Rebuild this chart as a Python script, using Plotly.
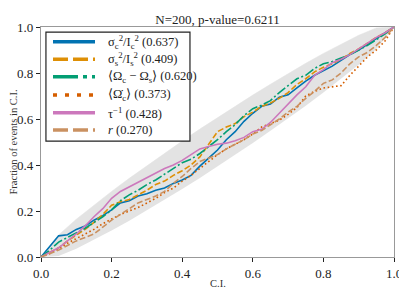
import plotly.graph_objects as go

# ---- data ----
ci_grid = [i * 0.025 for i in range(41)]

blue_sc = [0.000, 0.045, 0.092, 0.097, 0.120, 0.135, 0.160, 0.180, 0.205, 0.235,
           0.245, 0.265, 0.275, 0.290, 0.300, 0.320, 0.335, 0.355, 0.395, 0.430,
           0.465, 0.510, 0.545, 0.590, 0.625, 0.655, 0.665, 0.695, 0.705, 0.735,
           0.765, 0.790, 0.810, 0.830, 0.855, 0.880, 0.900, 0.925, 0.950, 0.975, 1.000]
orange_ss = [0.000, 0.020, 0.040, 0.070, 0.095, 0.120, 0.150, 0.185, 0.225, 0.240,
             0.250, 0.270, 0.290, 0.315, 0.330, 0.355, 0.375, 0.400, 0.435, 0.490,
             0.545, 0.565, 0.580, 0.610, 0.630, 0.655, 0.670, 0.690, 0.715, 0.750,
             0.775, 0.805, 0.825, 0.840, 0.860, 0.885, 0.905, 0.930, 0.955, 0.975, 1.000]
green_dom = [0.000, 0.030, 0.065, 0.085, 0.105, 0.125, 0.150, 0.175, 0.205, 0.245,
             0.270, 0.290, 0.315, 0.335, 0.360, 0.385, 0.410, 0.425, 0.450, 0.480,
             0.510, 0.545, 0.575, 0.615, 0.645, 0.660, 0.680, 0.715, 0.745, 0.775,
             0.790, 0.820, 0.840, 0.850, 0.865, 0.880, 0.900, 0.920, 0.945, 0.970, 1.000]
verm_omdot = [0.000, 0.015, 0.035, 0.060, 0.080, 0.100, 0.120, 0.145, 0.165, 0.185,
              0.200, 0.215, 0.235, 0.255, 0.280, 0.300, 0.330, 0.355, 0.385, 0.415,
              0.445, 0.470, 0.490, 0.510, 0.535, 0.565, 0.580, 0.595, 0.620, 0.650,
              0.700, 0.720, 0.735, 0.740, 0.745, 0.790, 0.830, 0.870, 0.900, 0.940, 1.000]
pink_tau = [0.000, 0.020, 0.040, 0.070, 0.100, 0.135, 0.175, 0.210, 0.255, 0.285,
            0.305, 0.325, 0.345, 0.365, 0.385, 0.400, 0.420, 0.445, 0.470, 0.480,
            0.490, 0.495, 0.505, 0.520, 0.545, 0.555, 0.585, 0.625, 0.665, 0.705,
            0.740, 0.790, 0.815, 0.845, 0.860, 0.880, 0.905, 0.930, 0.955, 0.975, 1.000]
tan_r = [0.000, 0.015, 0.030, 0.050, 0.070, 0.085, 0.100, 0.130, 0.160, 0.185,
         0.210, 0.235, 0.250, 0.265, 0.285, 0.320, 0.350, 0.385, 0.415, 0.430,
         0.445, 0.470, 0.490, 0.510, 0.535, 0.550, 0.575, 0.600, 0.630, 0.655,
         0.690, 0.720, 0.755, 0.770, 0.800, 0.840, 0.870, 0.890, 0.920, 0.955, 1.000]

# confidence band, at x = 0, 0.05, ..., 1
band_x = [i * 0.05 for i in range(21)]
band_half = [0.000, 0.046, 0.064, 0.076, 0.085, 0.092, 0.097, 0.101, 0.104, 0.106,
             0.106, 0.106, 0.104, 0.101, 0.097, 0.092, 0.085, 0.076, 0.064, 0.046, 0.000]

series_names = [
    "σ<sub>c</sub><sup>2</sup>/I<sub>c</sub><sup>2</sup> (0.637)",
    "σ<sub>s</sub><sup>2</sup>/I<sub>s</sub><sup>2</sup> (0.409)",
    "⟨Ω<sub>c</sub> − Ω<sub>s</sub>⟩ (0.620)",
    "⟨Ω̇<sub>c</sub>⟩ (0.373)",
    "τ<sup>−1</sup> (0.428)",
    "<i>r</i> (0.270)",
]
series_values = [blue_sc, orange_ss, green_dom, verm_omdot, pink_tau, tan_r]
title_text = "N=200, p-value=0.6211"

# ---- styles ----
colors = ["#0173b2", "#de8f05", "#029e73", "#d55e00", "#cc78bc", "#ca9161"]
plot_dash = ["solid", "6px,2.5px", "10px,2.5px,2px,2.5px", "1.6px,2.6px", "solid", "6px,2.5px"]
leg_dash = ["solid", "15px,5px", "25px,5px,4px,5px", "4px,8px", "solid", "15px,5px"]

FONT = "Liberation Serif"

fig = go.Figure()

upper = [min(1.0, x + h) for x, h in zip(band_x, band_half)]
lower = [max(0.0, x - h) for x, h in zip(band_x, band_half)]
fig.add_trace(go.Scatter(x=band_x, y=lower, mode="lines", line=dict(width=0, color="#e3e3e3"),
                         showlegend=False, hoverinfo="skip"))
fig.add_trace(go.Scatter(x=band_x, y=upper, mode="lines", line=dict(width=0.5, color="#e3e3e3"),
                         fill="tonexty", fillcolor="#e3e3e3", showlegend=False, hoverinfo="skip"))

for name, vals, c, d in zip(series_names, series_values, colors, plot_dash):
    fig.add_trace(go.Scatter(x=ci_grid, y=vals, mode="lines", name=name,
                             line=dict(color=c, width=1.6, dash=d), showlegend=False))

# manual legend (matplotlib-like)
shapes = [dict(type="rect", xref="x", yref="y", x0=0.014, x1=0.422, y0=0.504, y1=0.978,
               line=dict(color="#222", width=1.2), fillcolor="white", layer="above")]
annotations = []
leg_y = [0.936, 0.860, 0.784, 0.704, 0.627, 0.552]
for yy, name, c, d in zip(leg_y, series_names, colors, leg_dash):
    shapes.append(dict(type="line", xref="x", yref="y", x0=0.034, x1=0.153, y0=yy, y1=yy,
                       line=dict(color=c, width=3.5, dash=d), layer="above"))
    annotations.append(dict(x=0.183, y=yy, xref="x", yref="y", text=name, showarrow=False,
                            xanchor="left", yanchor="middle",
                            font=dict(family=FONT, size=12.5, color="#222")))

annotations.append(dict(x=0.5, y=-0.115, xref="paper", yref="paper", text="C.I.", showarrow=False,
                        xanchor="center", yanchor="middle", font=dict(family=FONT, size=10.5, color="#333")))
annotations.append(dict(x=-0.078, y=0.5, xref="paper", yref="paper", text="Fraction of events in C.I.",
                        showarrow=False, textangle=-90, xanchor="center", yanchor="middle",
                        font=dict(family=FONT, size=10.5, color="#333")))

# page body adds an 8px offset; margins compensate so the axes land where the reference has them
fig.update_layout(
    width=407, height=305,
    margin=dict(l=33, r=21, t=19, b=56, autoexpand=False),
    paper_bgcolor="white", plot_bgcolor="white",
    title=dict(text=title_text, x=0.5, xref="paper", xanchor="center",
               y=1 - 11 / 305, yref="container", yanchor="middle",
               font=dict(family=FONT, size=13, color="#222")),
    shapes=shapes, annotations=annotations,
    showlegend=False,
    font=dict(family=FONT, color="#222"),
)
axis_common = dict(range=[0, 1], showgrid=False, zeroline=False, showline=True, mirror=True,
                   automargin=False,
                   linecolor="#999", linewidth=1.2, ticks="outside", ticklen=4, tickwidth=1,
                   tickcolor="#222", tickfont=dict(family=FONT, size=13, color="#222"),
                   tickvals=[0, 0.2, 0.4, 0.6, 0.8, 1.0],
                   ticktext=["0.0", "0.2", "0.4", "0.6", "0.8", "1.0"])
fig.update_xaxes(**axis_common)
fig.update_yaxes(**axis_common)

fig.write_html("out.html")
